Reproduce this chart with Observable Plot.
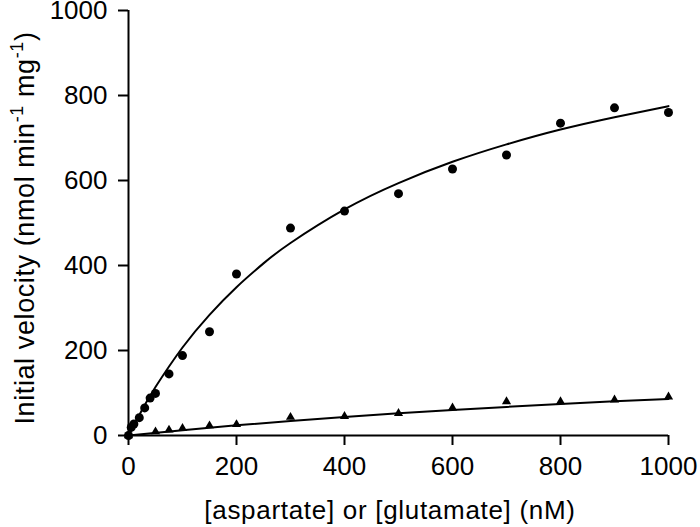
<!DOCTYPE html>
<html>
<head>
<meta charset="utf-8">
<script src="https://cdn.jsdelivr.net/npm/d3@7"></script>
<script src="https://cdn.jsdelivr.net/npm/@observablehq/plot@0.6"></script>
<style>
  html, body { margin: 0; padding: 0; background: #fff; }
  #chart { width: 700px; height: 527px; }
</style>
</head>
<body>
<div id="chart"></div>
<script>
// Tick values
const xTicks = [0, 200, 400, 600, 800, 1000];
const yTicks = [0, 200, 400, 600, 800, 1000];
const xDomain = [0, 1000];
const yDomain = [0, 1000];

// Aspartate (circles)
const aspX = [0, 5, 10, 20, 30, 40, 50, 75, 100, 150, 200, 300, 400, 500, 600, 700, 800, 900, 1000];
const aspV = [0, 19, 27, 42, 65, 88, 99, 145, 188, 244, 380, 488, 528, 569, 627, 660, 735, 771, 760];

// Glutamate (triangles)
const gluX = [0, 50, 75, 100, 150, 200, 300, 400, 500, 600, 700, 800, 900, 1000];
const gluV = [0, 9, 13, 17, 23, 26, 43, 45, 52, 65, 80, 80, 84, 91];

// Fitted curves
const aspFitX = [0, 25, 50, 100, 150, 200, 250, 300, 400, 500, 600, 700, 800, 900, 1000];
const aspFitV = [0, 60, 114, 207, 284, 349, 405, 453, 532, 594, 644, 685, 720, 749, 775];
const gluFitX = [0, 100, 200, 300, 400, 500, 600, 700, 800, 900, 1000];
const gluFitV = [0, 12.6, 23.9, 34.2, 43.5, 52.1, 60.0, 67.3, 74.0, 80.3, 86.0];

const xTitle = "[aspartate] or [glutamate] (nM)";

const asp = aspX.map((x, i) => ({x, v: aspV[i]}));
const glu = gluX.map((x, i) => ({x, v: gluV[i]}));
const aspFit = aspFitX.map((x, i) => ({x, v: aspFitV[i]}));
const gluFit = gluFitX.map((x, i) => ({x, v: gluFitV[i]}));

const FONT = "'Liberation Sans', Arial, sans-serif";

const chart = Plot.plot({
  width: 700,
  height: 527,
  marginLeft: 128,
  marginRight: 32,
  marginTop: 10,
  marginBottom: 92,
  style: {fontFamily: FONT, fontSize: "26px", background: "#fff", color: "#000"},
  x: {domain: xDomain},
  y: {domain: yDomain},
  marks: [
    Plot.axisX({ticks: xTicks, tickSize: 10, tickPadding: 11, strokeWidth: 2, label: null, fontSize: 26, tickFormat: d => String(d)}),
    Plot.axisY({ticks: yTicks, tickSize: 10, tickPadding: 11, strokeWidth: 2, label: null, fontSize: 26, tickFormat: d => String(d)}),
    Plot.ruleX([xDomain[0]], {stroke: "#000", strokeWidth: 2}),
    Plot.ruleY([yDomain[0]], {stroke: "#000", strokeWidth: 2}),
    Plot.line(aspFit, {x: "x", y: "v", curve: "natural", stroke: "#000", strokeWidth: 2}),
    Plot.line(gluFit, {x: "x", y: "v", curve: "natural", stroke: "#000", strokeWidth: 2}),
    Plot.dot(asp, {x: "x", y: "v", r: 4.5, fill: "#000", stroke: "none"}),
    Plot.dot(glu, {x: "x", y: "v", symbol: "triangle", r: 3.4, fill: "#000", stroke: "none"})
  ]
});

const svg = d3.select(chart);
// X axis title
svg.append("text")
  .attr("x", 390)
  .attr("y", 519)
  .attr("text-anchor", "middle")
  .attr("font-family", FONT)
  .attr("font-size", 26)
  .attr("letter-spacing", "0.7px")
  .attr("fill", "#000")
  .text(xTitle);

// Y axis title with superscripts
const yt = svg.append("text")
  .attr("transform", "translate(34,228) rotate(-90)")
  .attr("text-anchor", "middle")
  .attr("font-family", FONT)
  .attr("font-size", 27)
  .attr("letter-spacing", "0.6px")
  .attr("fill", "#000");
yt.append("tspan").text("Initial velocity (nmol min");
yt.append("tspan").attr("font-size", 18).attr("dy", -11).text("-1");
yt.append("tspan").attr("dy", 11).text(" mg");
yt.append("tspan").attr("font-size", 18).attr("dy", -11).text("-1");
yt.append("tspan").attr("dy", 11).text(")");

document.getElementById("chart").appendChild(chart);
</script>
</body>
</html>
